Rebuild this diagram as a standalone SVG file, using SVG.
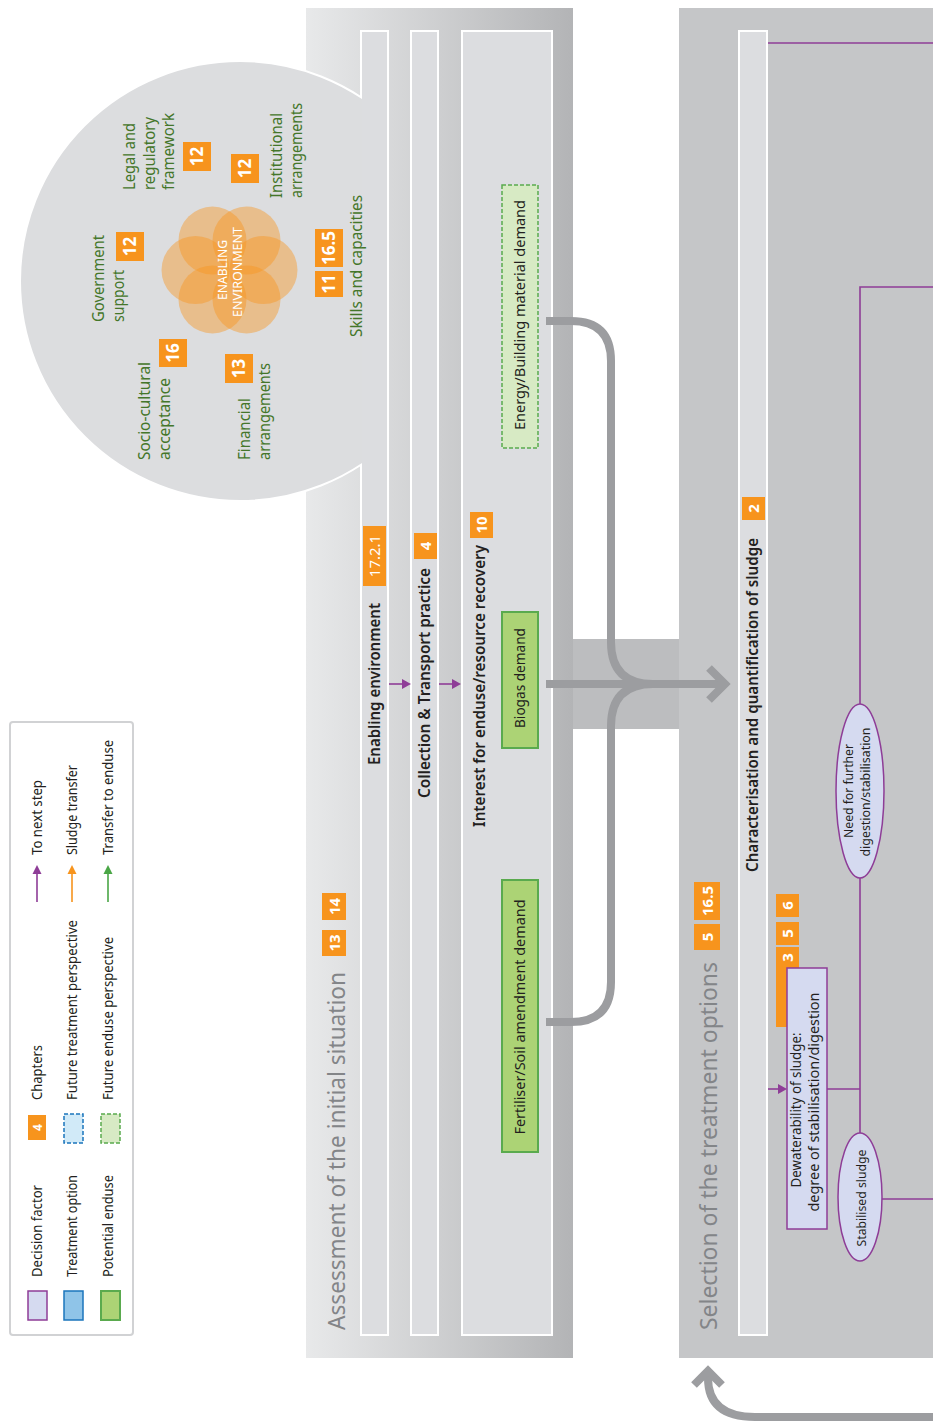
<svg xmlns="http://www.w3.org/2000/svg" width="933" height="1422" viewBox="0 0 933 1422">
<defs>
<linearGradient id="g1" x1="0" x2="1" y1="0" y2="0">
<stop offset="0" stop-color="#e8e9ea"/>
<stop offset="1" stop-color="#b3b4b6"/>
</linearGradient>
<clipPath id="cc"><rect x="0" y="0" width="362" height="1422"/></clipPath>
<style>
text{font-family:"Noto Sans","Liberation Sans",sans-serif}
.box{fill:#dcdde0;stroke:#fff;stroke-width:2}
.bdg{fill:#f7941d}
.bt{fill:#fff;font-weight:bold;text-anchor:middle}
.dk{fill:#231f20}
.hd{fill:#231f20;font-size:16px;font-weight:600}
.gr{fill:#44762a;font-size:16.5px}
.ttl{fill:#838588;font-size:24px}
.lg{fill:#231f20;font-size:13.5px}
.pu{stroke:#8e3d97;stroke-width:1.6;fill:none}
.puf{fill:#8e3d97}
.gc{stroke:#9c9da0;stroke-width:8;fill:none}
.df{fill:#d5daf0;stroke:#8e3d97;stroke-width:1.5}
.pe{fill:#acd375;stroke:#5aaa4e;stroke-width:2}
.fe{fill:#d7eac4;stroke:#5aaa4e;stroke-width:1.5;stroke-dasharray:4 2}
.fl{fill:#f7941d;opacity:.43}
.mid{text-anchor:middle}
</style>
</defs>
<rect width="933" height="1422" fill="#fff"/>

<g id="legend">
<rect x="10" y="722" width="123" height="613" rx="3" fill="#fff" stroke="#d1d2d4" stroke-width="2"/>
<rect x="28" y="1291" width="19" height="29" class="df"/>
<text class="lg" transform="translate(41.5,1277) rotate(-90)" textLength="92" lengthAdjust="spacingAndGlyphs">Decision factor</text>
<rect x="28" y="1115" width="18" height="25" class="bdg"/>
<text class="bt" font-size="12" transform="translate(41.5,1127.5) rotate(-90)">4</text>
<text class="lg" transform="translate(41.5,1100) rotate(-90)" textLength="55" lengthAdjust="spacingAndGlyphs">Chapters</text>
<line x1="37" y1="902" x2="37" y2="873" stroke="#8e3d97" stroke-width="1.6"/>
<polygon points="32.5,874 37,865 41.5,874" fill="#8e3d97"/>
<text class="lg" transform="translate(41.5,855) rotate(-90)" textLength="75" lengthAdjust="spacingAndGlyphs">To next step</text>

<rect x="64" y="1291" width="19" height="29" fill="#8fc4e8" stroke="#1b75bc" stroke-width="1.5"/>
<text class="lg" transform="translate(76.5,1277) rotate(-90)" textLength="102" lengthAdjust="spacingAndGlyphs">Treatment option</text>
<rect x="64" y="1114" width="19" height="29" fill="#d1eaf8" stroke="#1b75bc" stroke-width="1.5" stroke-dasharray="4 2"/>
<text class="lg" transform="translate(76.5,1100) rotate(-90)" textLength="180" lengthAdjust="spacingAndGlyphs">Future treatment perspective</text>
<line x1="72" y1="902" x2="72" y2="873" stroke="#f7941d" stroke-width="1.6"/>
<polygon points="67.5,874 72,865 76.5,874" fill="#f7941d"/>
<text class="lg" transform="translate(76.5,855) rotate(-90)" textLength="90" lengthAdjust="spacingAndGlyphs">Sludge transfer</text>

<rect x="101" y="1291" width="19" height="29" class="pe"/>
<text class="lg" transform="translate(112.5,1277) rotate(-90)" textLength="102" lengthAdjust="spacingAndGlyphs">Potential enduse</text>
<rect x="101" y="1114" width="19" height="29" class="fe"/>
<text class="lg" transform="translate(112.5,1100) rotate(-90)" textLength="163" lengthAdjust="spacingAndGlyphs">Future enduse perspective</text>
<line x1="108" y1="902" x2="108" y2="873" stroke="#4aa646" stroke-width="1.6"/>
<polygon points="103.5,874 108,865 112.5,874" fill="#4aa646"/>
<text class="lg" transform="translate(112.5,855) rotate(-90)" textLength="115" lengthAdjust="spacingAndGlyphs">Transfer to enduse</text>
</g>

<g id="panel-assessment">
<rect x="306" y="8" width="267" height="1350" fill="url(#g1)"/>
<rect x="573" y="639" width="106" height="90" fill="#bcbdbf"/>
<rect class="box" x="361" y="31" width="27" height="1304"/>
<rect class="box" x="411" y="31" width="27" height="1304"/>
<rect class="box" x="462" y="31" width="90" height="1304"/>
<circle cx="240" cy="281" r="220" fill="#dcdddf" stroke="#fff" stroke-width="2" clip-path="url(#cc)"/>
<text class="ttl" transform="translate(345,1330) rotate(-90)" textLength="358" lengthAdjust="spacingAndGlyphs">Assessment of the initial situation</text>
<rect class="bdg" x="322" y="930" width="24" height="26"/>
<text class="bt" font-size="15" transform="translate(339.5,943) rotate(-90)">13</text>
<rect class="bdg" x="322" y="893" width="24" height="27"/>
<text class="bt" font-size="15" transform="translate(339.5,906.5) rotate(-90)">14</text>
</g>

<g id="enabling-environment-circle">
<circle class="fl" cx="195.5" cy="270" r="34"/>
<circle class="fl" cx="263.5" cy="270" r="34"/>
<circle class="fl" cx="212.5" cy="240.6" r="34"/>
<circle class="fl" cx="246.5" cy="240.6" r="34"/>
<circle class="fl" cx="212.5" cy="299.4" r="34"/>
<circle class="fl" cx="246.5" cy="299.4" r="34"/>
<text fill="#fff" font-size="12" class="mid" transform="translate(227,270) rotate(-90)" textLength="60" lengthAdjust="spacingAndGlyphs">ENABLING</text>
<text fill="#fff" font-size="12" class="mid" transform="translate(242,272) rotate(-90)" textLength="90" lengthAdjust="spacingAndGlyphs">ENVIRONMENT</text>
</g>

<g id="factor-legal">
<text class="gr" transform="translate(135,190) rotate(-90)" textLength="67" lengthAdjust="spacingAndGlyphs">Legal and</text>
<text class="gr" transform="translate(155,190) rotate(-90)" textLength="73" lengthAdjust="spacingAndGlyphs">regulatory</text>
<text class="gr" transform="translate(174,190) rotate(-90)" textLength="77" lengthAdjust="spacingAndGlyphs">framework</text>
<rect class="bdg" x="183" y="142" width="28" height="29"/>
<text class="bt" font-size="17" transform="translate(203,156.5) rotate(-90)">12</text>
</g>
<g id="factor-institutional">
<text class="gr" transform="translate(282,198) rotate(-90)" textLength="85" lengthAdjust="spacingAndGlyphs">Institutional</text>
<text class="gr" transform="translate(302,198) rotate(-90)" textLength="95" lengthAdjust="spacingAndGlyphs">arrangements</text>
<rect class="bdg" x="231" y="154" width="28" height="29"/>
<text class="bt" font-size="17" transform="translate(251,168.5) rotate(-90)">12</text>
</g>
<g id="factor-government">
<text class="gr" transform="translate(104,322) rotate(-90)" textLength="87" lengthAdjust="spacingAndGlyphs">Government</text>
<text class="gr" transform="translate(124,322) rotate(-90)" textLength="52" lengthAdjust="spacingAndGlyphs">support</text>
<rect class="bdg" x="116" y="232" width="28" height="29"/>
<text class="bt" font-size="17" transform="translate(136,246.5) rotate(-90)">12</text>
</g>
<g id="factor-skills">
<text class="gr" transform="translate(362,337) rotate(-90)" textLength="142" lengthAdjust="spacingAndGlyphs">Skills and capacities</text>
<rect class="bdg" x="315" y="229" width="28" height="38"/>
<text class="bt" font-size="17" transform="translate(335,248) rotate(-90)">16.5</text>
<rect class="bdg" x="315" y="271" width="28" height="26"/>
<text class="bt" font-size="17" transform="translate(335,284) rotate(-90)">11</text>
</g>
<g id="factor-sociocultural">
<text class="gr" transform="translate(150,460) rotate(-90)" textLength="98" lengthAdjust="spacingAndGlyphs">Socio-cultural</text>
<text class="gr" transform="translate(170,460) rotate(-90)" textLength="82" lengthAdjust="spacingAndGlyphs">acceptance</text>
<rect class="bdg" x="159" y="339" width="28" height="28"/>
<text class="bt" font-size="17" transform="translate(179,353) rotate(-90)">16</text>
</g>
<g id="factor-financial">
<text class="gr" transform="translate(250,460) rotate(-90)" textLength="62" lengthAdjust="spacingAndGlyphs">Financial</text>
<text class="gr" transform="translate(270,460) rotate(-90)" textLength="97" lengthAdjust="spacingAndGlyphs">arrangements</text>
<rect class="bdg" x="225" y="354" width="28" height="29"/>
<text class="bt" font-size="17" transform="translate(245,368.5) rotate(-90)">13</text>
</g>

<g id="node-enabling-environment">
<text class="hd" transform="translate(380,765) rotate(-90)" textLength="162" lengthAdjust="spacingAndGlyphs">Enabling environment</text>
<rect class="bdg" x="363" y="526" width="23" height="60"/>
<text fill="#fff" font-size="15" class="mid" transform="translate(380,556) rotate(-90)">17.2.1</text>
</g>
<g id="node-collection">
<text class="hd" transform="translate(430,798) rotate(-90)" textLength="230" lengthAdjust="spacingAndGlyphs">Collection &amp; Transport practice</text>
<rect class="bdg" x="414" y="533" width="23" height="26"/>
<text class="bt" font-size="15" transform="translate(431,546) rotate(-90)">4</text>
</g>
<g id="node-interest">
<text class="hd" transform="translate(485,827) rotate(-90)" textLength="282" lengthAdjust="spacingAndGlyphs">Interest for enduse/resource recovery</text>
<rect class="bdg" x="470" y="512" width="23" height="26"/>
<text class="bt" font-size="15" transform="translate(487,525) rotate(-90)">10</text>
</g>
<g id="node-energy">
<rect class="fe" x="502" y="185" width="36" height="263"/>
<text class="dk mid" font-size="14.5" transform="translate(524.5,315) rotate(-90)" textLength="230" lengthAdjust="spacingAndGlyphs">Energy/Building material demand</text>
</g>
<g id="node-biogas">
<rect class="pe" x="502" y="612" width="36" height="136"/>
<text class="dk mid" font-size="14.5" transform="translate(524.5,678) rotate(-90)" textLength="100" lengthAdjust="spacingAndGlyphs">Biogas demand</text>
</g>
<g id="node-fertiliser">
<rect class="pe" x="502" y="880" width="36" height="272"/>
<text class="dk mid" font-size="14.5" transform="translate(524.5,1017) rotate(-90)" textLength="235" lengthAdjust="spacingAndGlyphs">Fertiliser/Soil amendment demand</text>
</g>

<g id="panel-selection">
<rect x="679" y="8" width="254" height="1350" fill="#c5c6c8"/>
<rect class="box" x="739" y="31" width="28" height="1304"/>
<text class="ttl" transform="translate(717,1330) rotate(-90)" textLength="368" lengthAdjust="spacingAndGlyphs">Selection of the treatment options</text>
<rect class="bdg" x="694" y="882" width="26" height="38"/>
<text class="bt" font-size="15" transform="translate(712.5,901) rotate(-90)">16.5</text>
<rect class="bdg" x="694" y="924" width="26" height="26"/>
<text class="bt" font-size="15" transform="translate(712.5,937) rotate(-90)">5</text>
</g>
<g id="node-characterisation">
<text class="hd" transform="translate(758,872) rotate(-90)" textLength="334" lengthAdjust="spacingAndGlyphs">Characterisation and quantification of sludge</text>
<rect class="bdg" x="742" y="497" width="23" height="23"/>
<text class="bt" font-size="15" transform="translate(759,508.5) rotate(-90)">2</text>
</g>
<g id="node-dewaterability">
<rect class="bdg" x="776" y="894" width="23" height="23"/>
<text class="bt" font-size="15" transform="translate(793,905.5) rotate(-90)">6</text>
<rect class="bdg" x="776" y="922" width="23" height="23"/>
<text class="bt" font-size="15" transform="translate(793,933.5) rotate(-90)">5</text>
<rect class="bdg" x="776" y="947" width="23" height="80"/>
<text class="bt" font-size="15" transform="translate(793,957.5) rotate(-90)">3</text>
<rect class="df" x="787" y="968" width="40" height="261"/>
<text class="dk mid" font-size="14.5" transform="translate(801,1110) rotate(-90)" textLength="155" lengthAdjust="spacingAndGlyphs">Dewaterability of sludge:</text>
<text class="dk mid" font-size="14.5" transform="translate(819,1102) rotate(-90)" textLength="219" lengthAdjust="spacingAndGlyphs">degree of stabilisation/digestion</text>
</g>
<g id="node-further-digestion">
<ellipse class="df" cx="860" cy="791" rx="24" ry="87"/>
<text class="dk mid" font-size="12.5" transform="translate(853,791) rotate(-90)" textLength="94" lengthAdjust="spacingAndGlyphs">Need for further</text>
<text class="dk mid" font-size="12.5" transform="translate(869.5,792) rotate(-90)" textLength="129" lengthAdjust="spacingAndGlyphs">digestion/stabilisation</text>
</g>
<g id="node-stabilised">
<ellipse class="df" cx="860" cy="1197" rx="22" ry="64"/>
<text class="dk mid" font-size="12.5" transform="translate(866,1198) rotate(-90)" textLength="97" lengthAdjust="spacingAndGlyphs">Stabilised sludge</text>
</g>

<g id="connectors">
<path class="gc" d="M546,321 H571 Q611,321 611,361 V642 Q611,684 653,684"/>
<path class="gc" d="M546,1022 H571 Q611,1022 611,982 V726 Q611,684 653,684"/>
<path class="gc" d="M546,684 H726"/>
<polyline class="gc" points="709,668 725,684 709,700"/>
<path class="gc" d="M933,1417 H755 Q708,1417 708,1378 V1372"/>
<polyline class="gc" points="694,1385 708,1371 722,1385"/>
<line class="pu" x1="389" y1="684" x2="403" y2="684"/>
<polygon class="puf" points="402,679 411,684 402,689"/>
<line class="pu" x1="439" y1="684" x2="453" y2="684"/>
<polygon class="puf" points="452,679 461,684 452,689"/>
<line class="pu" x1="768" y1="43" x2="933" y2="43"/>
<polyline class="pu" points="933,287 860,287 860,704"/>
<line class="pu" x1="860" y1="878" x2="860" y2="1133"/>
<line class="pu" x1="827" y1="1089" x2="860" y2="1089"/>
<line class="pu" x1="768" y1="1089" x2="779" y2="1089"/>
<polygon class="puf" points="778,1084 787,1089 778,1094"/>
<line class="pu" x1="882" y1="1199" x2="933" y2="1199"/>
</g>
</svg>
